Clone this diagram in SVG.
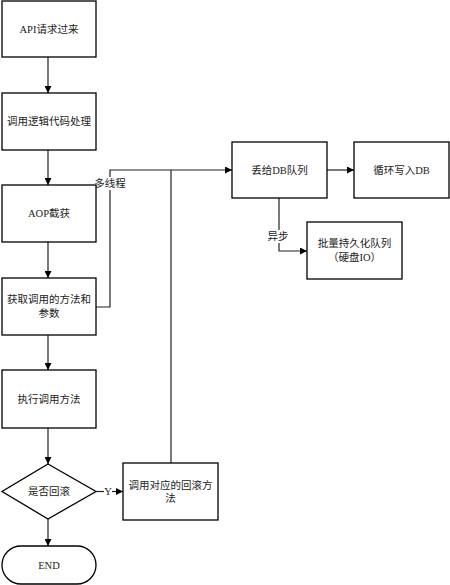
<svg xmlns="http://www.w3.org/2000/svg" width="450" height="585" viewBox="0 0 450 585">
<defs>
<marker id="ah" viewBox="0 0 10 10" refX="10" refY="5" markerWidth="7" markerHeight="7" markerUnits="userSpaceOnUse" orient="auto">
<path d="M0,0 L10,5 L0,10 z" fill="#000"/>
</marker>
<style>
.n{fill:#fff;stroke:#000;stroke-width:1.3}
.c{fill:none;stroke:#222;stroke-width:1.2}
.a{marker-end:url(#ah)}
text{font-family:"Liberation Serif","Noto Sans CJK SC",serif;font-size:10.5px;fill:#222;text-anchor:middle;dominant-baseline:central}
.bg{fill:#fff}
</style>
</defs>
<rect width="450" height="585" fill="#fff"/>
<g id="connectors">
<path class="c a" d="M48,57 V93"/>
<path class="c a" d="M48,150 V185"/>
<path class="c a" d="M48,242 V278"/>
<path class="c a" d="M48,335 V370"/>
<path class="c a" d="M48,428 V464"/>
<path class="c a" d="M48,519 V546"/>
<path class="c a" d="M96,491.5 H123"/>
<path class="c a" d="M96,307 H110 V170 H232"/>
<path class="c" d="M171,463 V170"/>
<path class="c a" d="M327,170 H354"/>
<path class="c a" d="M279,198 V251 H307"/>
<rect class="bg" x="93" y="177" width="34" height="13"/>
<text x="110" y="183.5">多线程</text>
<rect class="bg" x="265" y="230" width="26" height="13"/>
<text x="278" y="236.5">异步</text>
<rect class="bg" x="104" y="485" width="8" height="13"/>
<text x="108" y="491.5">Y</text>
</g>
<g id="n1"><rect class="n" x="2" y="1" width="94" height="56"/><text x="49" y="29">API请求过来</text></g>
<g id="n2"><rect class="n" x="2" y="93" width="94" height="57"/><text x="49" y="121.5">调用逻辑代码处理</text></g>
<g id="n3"><rect class="n" x="2" y="185" width="94" height="57"/><text x="49" y="213.5">AOP截获</text></g>
<g id="n4"><rect class="n" x="2" y="278" width="94" height="57"/><text x="49" y="299">获取调用的方法和</text><text x="49" y="313">参数</text></g>
<g id="n5"><rect class="n" x="2" y="370" width="94" height="58"/><text x="49" y="399">执行调用方法</text></g>
<g id="n6"><polygon class="n" points="48,464 96,491.5 48,519 2,491.5"/><text x="49" y="491.5">是否回滚</text></g>
<g id="n7"><rect class="n" x="2" y="546" width="94" height="38" rx="19" ry="19"/><text x="49" y="565">END</text></g>
<g id="n8"><rect class="n" x="123" y="463" width="95" height="57"/><text x="170.5" y="485">调用对应的回滚方</text><text x="170.5" y="498">法</text></g>
<g id="n9"><rect class="n" x="232" y="142" width="95" height="56"/><text x="279.5" y="170">丢给DB队列</text></g>
<g id="n10"><rect class="n" x="354" y="142" width="95" height="56"/><text x="401.5" y="170">循环写入DB</text></g>
<g id="n11"><rect class="n" x="307" y="222" width="95" height="57"/><text x="354.5" y="243">批量持久化队列</text><text x="354.5" y="257">（硬盘IO）</text></g>
</svg>
